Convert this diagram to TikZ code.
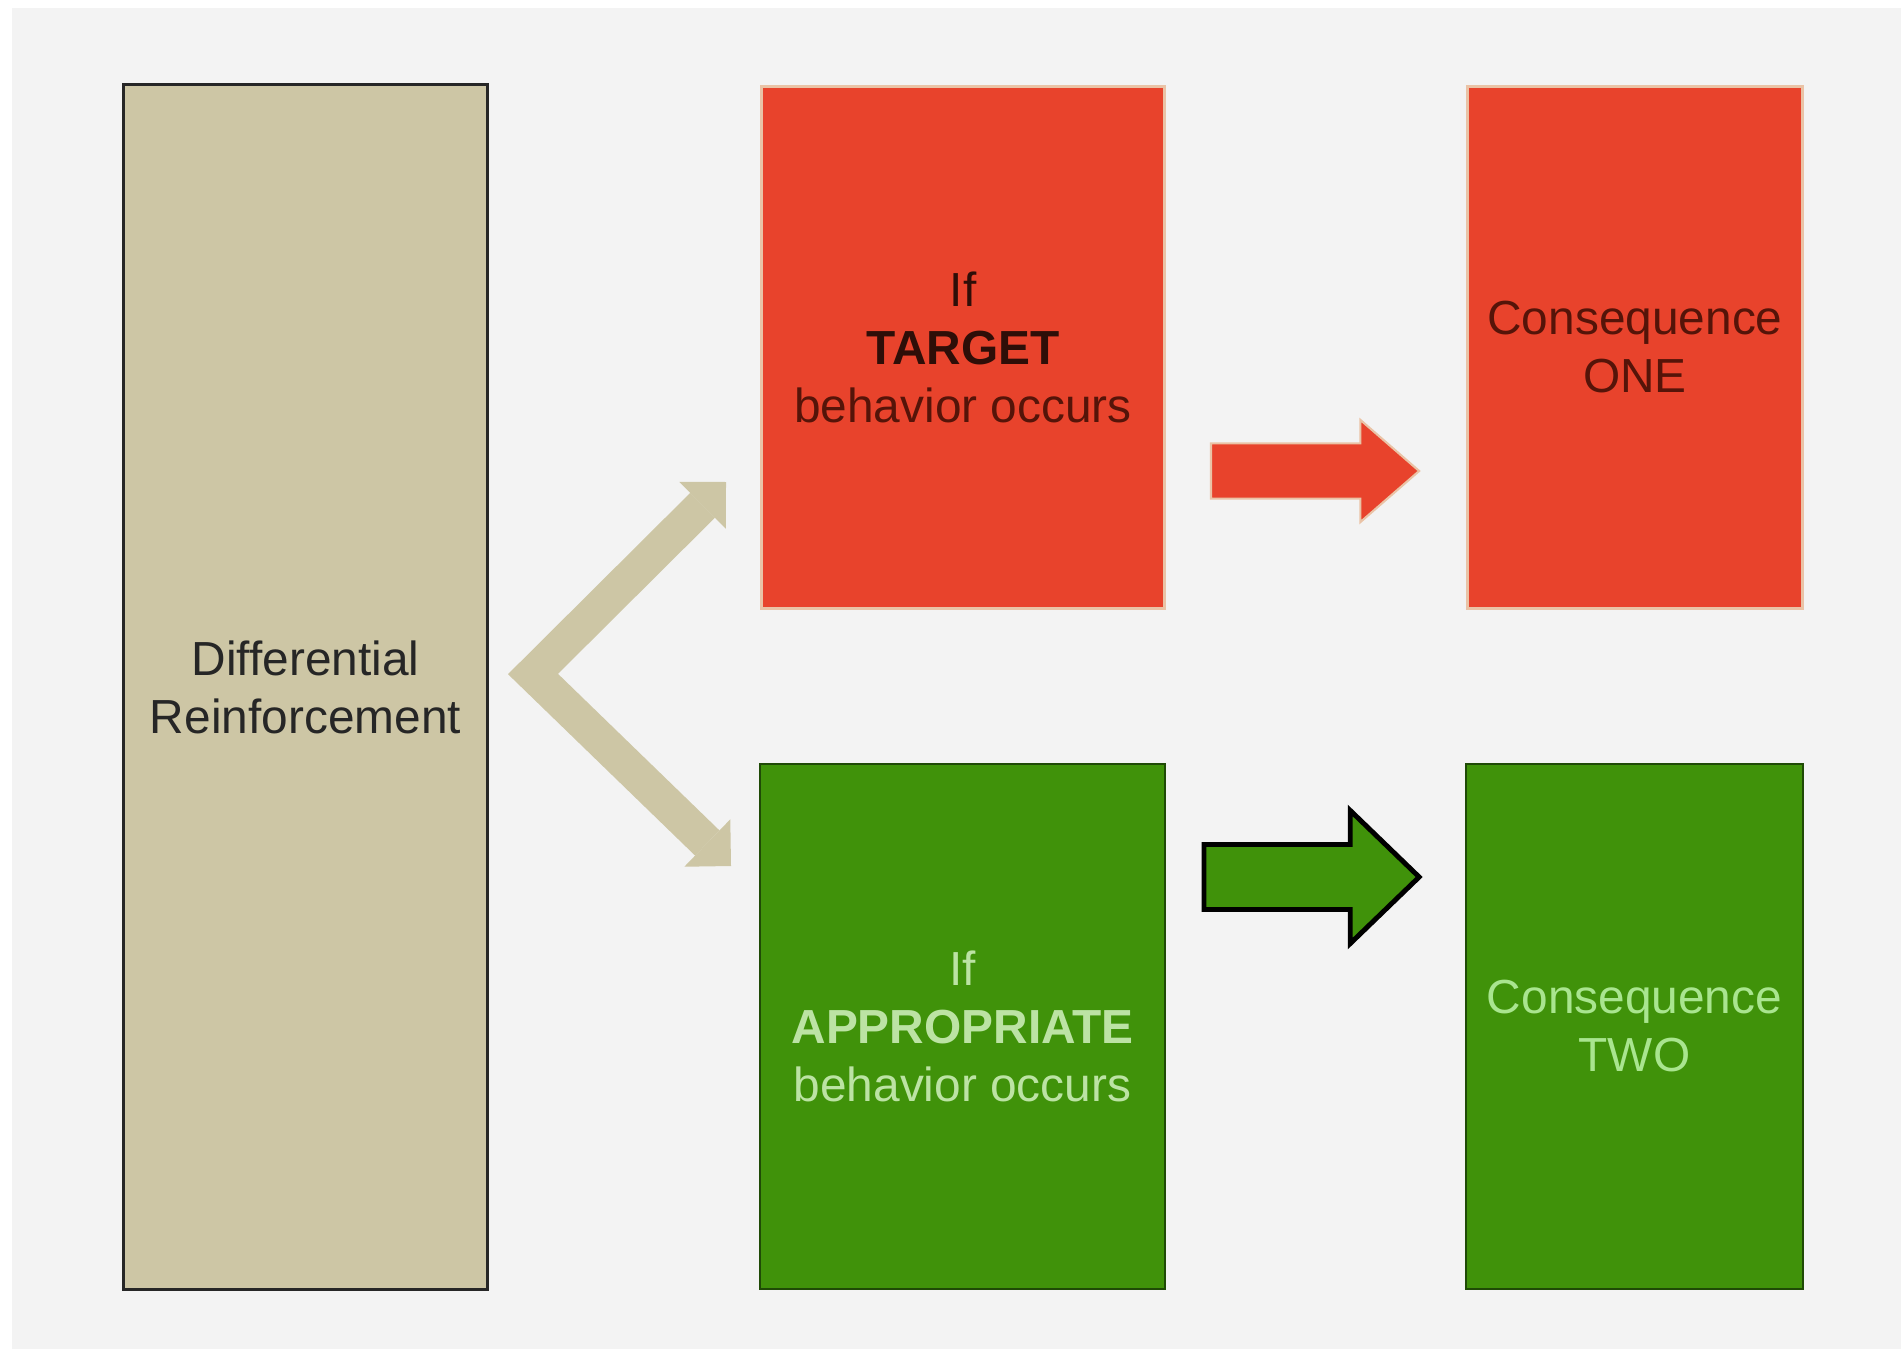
\documentclass[tikz,border=0pt]{standalone}
\usepackage{fontspec}
\setmainfont{Liberation Sans}
\usepackage{tikz}
\usetikzlibrary{positioning,arrows.meta,shapes.arrows,calc}
\definecolor{backdrop}{HTML}{F3F3F3}
\definecolor{drtan}{HTML}{CDC6A5}
\definecolor{drred}{HTML}{E8432C}
\definecolor{redrim}{HTML}{EAC3A6}
\definecolor{redtext}{HTML}{2E0E08}
\definecolor{redtextb}{HTML}{551409}
\definecolor{drgreen}{HTML}{40920A}
\definecolor{greenrim}{HTML}{1F4A06}
\definecolor{greentext}{HTML}{BCE3A4}
\definecolor{greentextb}{HTML}{A9E58F}
\tikzset{
box/.style={
  rectangle,
  inner sep=0pt,
  outer sep=0pt,
  align=center,
  font=\fontsize{13.6}{16.5}\selectfont
},
tanbox/.style={box, fill=drtan, draw=black!85, line width=0.7pt, text=black!85},
redbox/.style={box, fill=drred, draw=redrim, line width=0.85pt, text=redtext},
greenbox/.style={box, fill=drgreen, draw=greenrim, line width=0.6pt, text=greentext},
blockarrow/.style={single arrow, inner xsep=0pt, outer sep=0pt, anchor=tail},
forkarrow/.style={
  draw=drtan,
  line width=0.35cm,
  line join=miter,
  {Triangle[width=0.66cm,length=0.33cm,line width=0pt]}-{Triangle[width=0.66cm,length=0.33cm,line width=0pt]}
}
}
\begin{document}
\begin{tikzpicture}[x=0.01cm,y=-0.01cm]
    \useasboundingbox (0,0) rectangle (1901,1349);
    \fill[white] (0,0) rectangle (1901,1349);
    \fill[backdrop] (12,8) rectangle (1901,1349);

    \node[tanbox, minimum width=3.64cm, minimum height=12.04cm] (dr) at (305.5,687) {Differential\\Reinforcement};

    \node[redbox, minimum width=4.03cm, minimum height=5.22cm] (target) at (963,347.5)
        {If\\\textbf{TARGET}\\{\color{redtextb}behavior occurs}};
    \node[redbox, minimum width=3.35cm, minimum height=5.22cm, text=redtextb] (conone) at (1635,347.5)
        {Consequence\\ONE};
    \node[greenbox, minimum width=4.05cm, minimum height=5.25cm] (approp) at (962.5,1026.5)
        {If\\\textbf{APPROPRIATE}\\behavior occurs};
    \node[greenbox, minimum width=3.37cm, minimum height=5.25cm, text=greentextb] (contwo) at (1634.5,1026.5)
        {Consequence\\TWO};

    \node[blockarrow, fill=drred, draw=redrim, line width=0.6pt,
          inner ysep=0.265cm, minimum height=2.08cm,
          single arrow head extend=0.235cm, single arrow tip angle=82] (arrone) at (1211,471) {};
    \node[blockarrow, fill=drgreen, draw=black, line width=1.4pt,
          inner ysep=0.30cm, minimum height=2.15cm,
          single arrow head extend=0.34cm, single arrow tip angle=88] (arrtwo) at (1204,877) {};

    \coordinate (fork) at (533,674);
    \coordinate (uptip) at (726,482);
    \coordinate (lowtip) at (731,866);
    \draw[forkarrow] (uptip) -- (fork) -- (lowtip);
\end{tikzpicture}
\end{document}
